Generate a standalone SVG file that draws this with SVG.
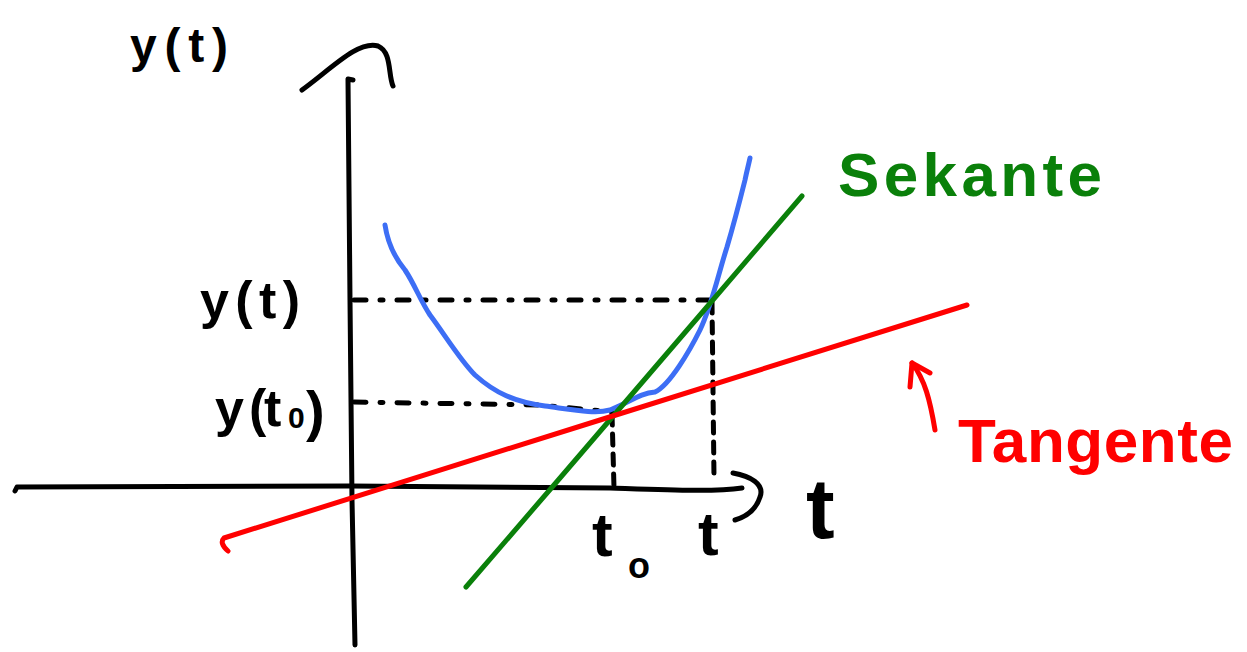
<svg xmlns="http://www.w3.org/2000/svg" width="1247" height="652" viewBox="0 0 1247 652">
<style>
.ln{fill:none;stroke-linecap:round;stroke-linejoin:round;stroke-width:5}
.k{stroke:#000}
.g{stroke:#0a800a}
.r{stroke:#ff0000}
.b{stroke:#3d6ef5}
.dd{stroke-dasharray:12 14 3 14}
.vd{stroke-dasharray:11 9}
.tx{font-family:"Liberation Sans",Arial,sans-serif;font-weight:bold}
.tk{fill:#000}
.tg{fill:#0a800a}
.tr{fill:#ff0000}
</style>
<rect width="1247" height="652" fill="#fff"/>
<g id="axes">
<path class="ln k" d="M15,491 L17,487 L350,486 L610,488 C670,490 715,492 742,488"/>
<path class="ln k" d="M733,473 C750,476 765,484 760,497 C756,510 745,517 735,520"/>
<path class="ln k" d="M353,80 L348,79 L350,300 L352,500 L355,645"/>
<path class="ln k" d="M302,90 C330,70 358,40 378,46 C392,52 388,75 393,86"/>
</g>
<g id="guides">
<path class="ln k dd" d="M354,300 L712,300"/>
<path class="ln k dd" d="M354,402 L540,405 L612,412"/>
<path class="ln k vd" d="M612,414 L614,488"/>
<path class="ln k vd" d="M712,302 L714,478"/>
</g>
<g id="curve">
<path class="ln b" d="M385,225 C388,245 395,258 405,270 C415,285 420,300 430,315 C445,335 460,360 475,375 C495,393 515,402 545,406 C575,410 595,414 610,410 C630,402 640,393 655,392 C670,385 690,350 700,330 C712,305 718,275 727,247 C735,220 740,200 745,180 C747,170 749,163 750,158"/>
</g>
<g id="sekante">
<path class="ln g" d="M466,587 L560,478 L700,315 L802,196"/>
</g>
<g id="tangente">
<path class="ln r" d="M228,551 Q219,543 224,538 L600,420 L967,305"/>
<path class="ln r" d="M935,430 C930,400 925,380 912,363"/>
<path class="ln r" d="M910,387 L912,363 L930,373"/>
</g>
<g id="labels">
<text class="tx tk" x="130" y="62" font-size="48" textLength="98" lengthAdjust="spacing">y(t)</text>
<text class="tx tk" x="200" y="318" font-size="52" textLength="100" lengthAdjust="spacing">y(t)</text>
<text class="tx tk" font-size="52" y="426"><tspan x="215">y</tspan><tspan x="249">(</tspan><tspan x="264">t</tspan></text>
<text class="tx tk" x="288" y="428" font-size="30">0</text>
<text class="tx tk" x="306" y="430" font-size="56">)</text>
<text class="tx tk" x="806" y="538" font-size="86">t</text>
<text class="tx tk" x="592" y="556" font-size="62">t</text>
<text class="tx tk" x="628" y="578" font-size="36">o</text>
<text class="tx tk" x="698" y="555" font-size="62">t</text>
<text class="tx tg" x="838" y="196" font-size="62" textLength="264" lengthAdjust="spacing">Sekante</text>
<text class="tx tr" x="958" y="462" font-size="62" textLength="275" lengthAdjust="spacing">Tangente</text>
</g>
</svg>
